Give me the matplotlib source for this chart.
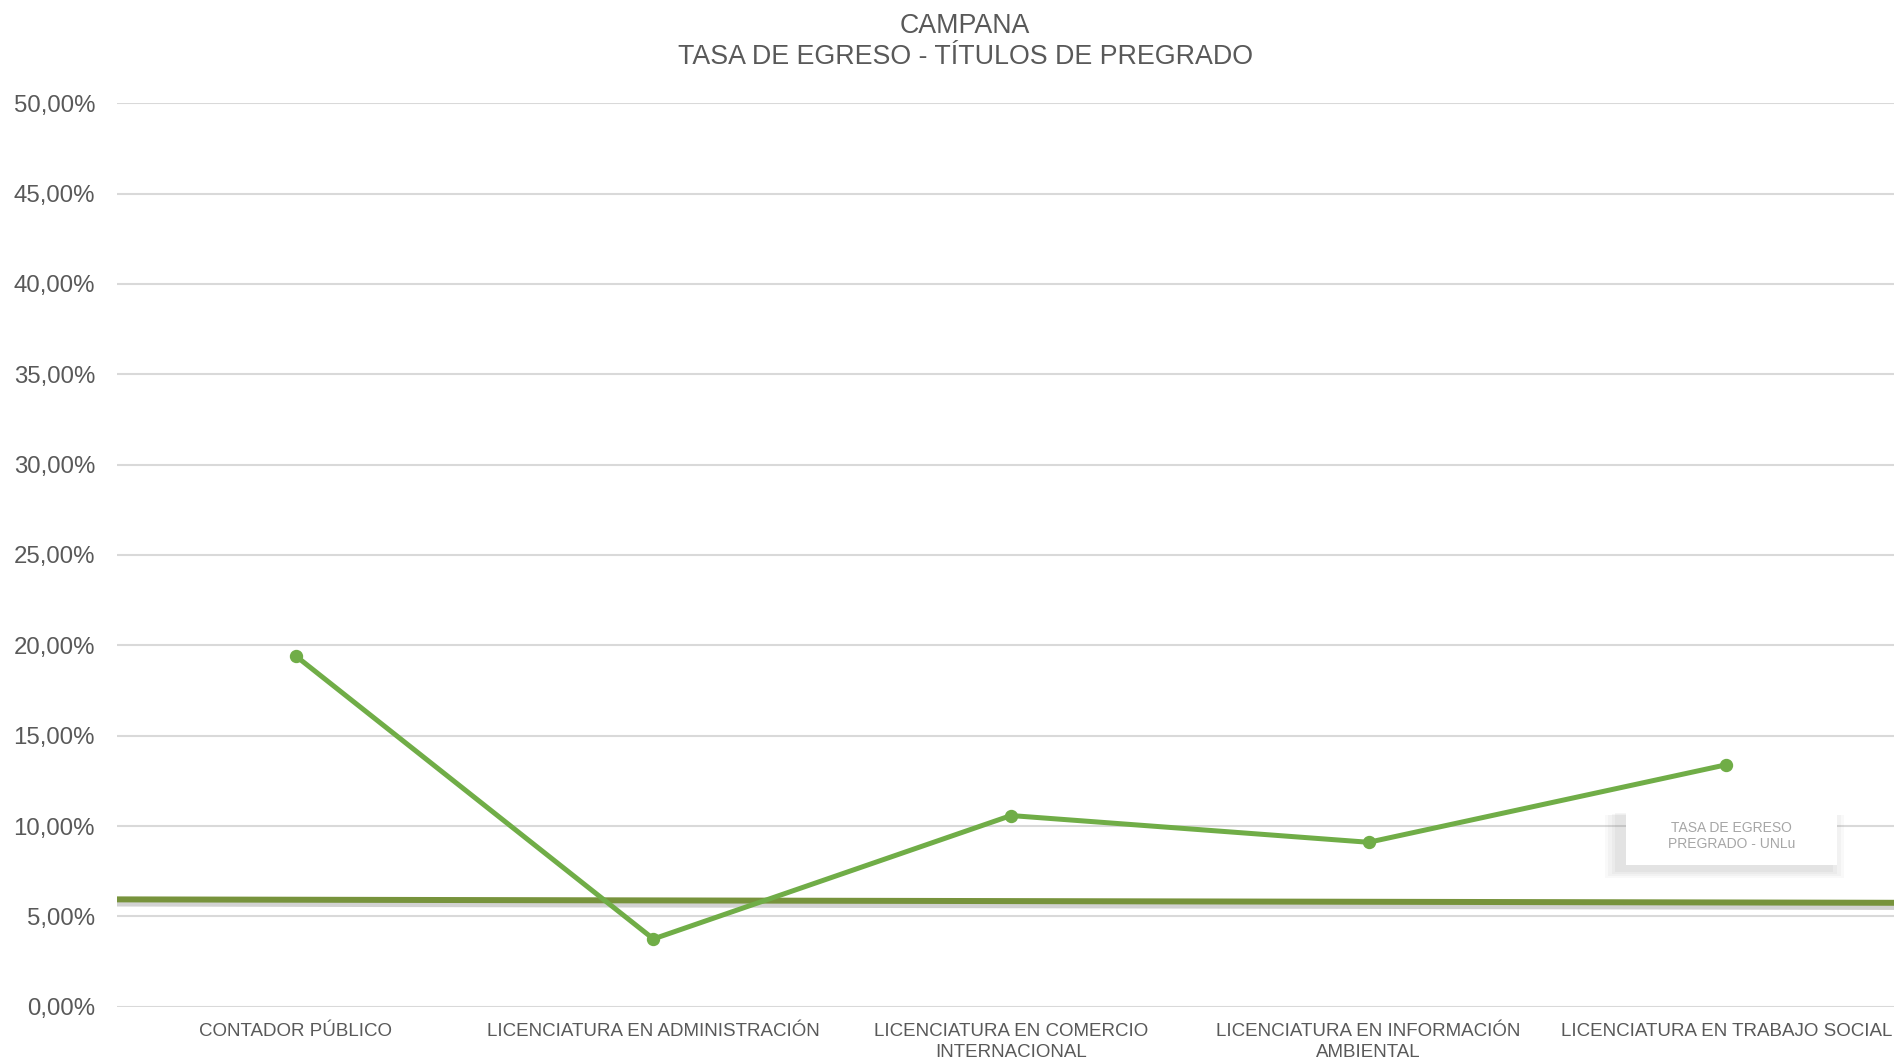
import matplotlib
matplotlib.use("Agg")
import matplotlib.pyplot as plt
import matplotlib.patheffects as pe
from matplotlib.patches import Rectangle
from matplotlib.ticker import FuncFormatter, MultipleLocator

plt.rcParams['font.family'] = ['Liberation Sans', 'DejaVu Sans']

categories = [
    "CONTADOR PÚBLICO",
    "LICENCIATURA EN ADMINISTRACIÓN",
    "LICENCIATURA EN COMERCIO\nINTERNACIONAL",
    "LICENCIATURA EN INFORMACIÓN\nAMBIENTAL",
    "LICENCIATURA EN TRABAJO SOCIAL",
]
tasa_campana = [0.1941, 0.0375, 0.1058, 0.0910, 0.1339]
# UNLu reference line, values at the left and right edges of the plot area
unlu_edges = [0.0594, 0.0575]
unlu_label = "TASA DE EGRESO\nPREGRADO - UNLu"
title = "CAMPANA\nTASA DE EGRESO - TÍTULOS DE PREGRADO"

W, H = 1894, 1061
fig = plt.figure(figsize=(W / 100, H / 100), dpi=100)
left, right = 117 / W, 1905 / W
bottom, top = (H - 1006.7) / H, (H - 103.3) / H
ax = fig.add_axes([left, bottom, right - left, top - bottom])

x = list(range(len(categories)))
ax.set_xlim(-0.5, len(categories) - 0.5)
ax.set_ylim(0, 0.5)

ax.yaxis.set_major_locator(MultipleLocator(0.05))
ax.yaxis.set_major_formatter(FuncFormatter(lambda v, p: f"{v*100:.2f}%".replace(".", ",")))
ax.grid(axis='y', color='#D9D9D9', linewidth=1.5)
ax.set_axisbelow(True)
for s in ax.spines.values():
    s.set_visible(False)
ax.tick_params(axis='both', length=0)
ax.tick_params(axis='y', labelsize=17.3, labelcolor='#595959', pad=15.8)
ax.set_xticks(x)
ax.set_xticklabels(categories, fontsize=13.5, color='#595959', linespacing=1.32)
ax.tick_params(axis='x', pad=11.5)

# UNLu line across the whole plot area
ax.plot([-0.5, len(categories) - 0.5], unlu_edges, color='#77933C', linewidth=4.3,
        solid_capstyle='butt', zorder=3,
        path_effects=[pe.SimpleLineShadow(offset=(0, -3), shadow_color='#7F7F7F', alpha=0.35, rho=1.0),
                      pe.Normal()])

ax.plot(x, tasa_campana, color='#70AD47', linewidth=3.6, marker='o', markersize=8.6,
        zorder=4, clip_on=False)

# label box with soft shadow (axes-fraction placement)
bx0, bx1, by0, by1 = 0.844, 0.962, 0.157, 0.221
for i, a in enumerate([0.04, 0.05, 0.06, 0.07]):
    d = 0.004 * (4 - i)
    ax.add_patch(Rectangle((bx0 - 0.004 - d * 0.5, by0 - 0.006 - d * 0.5), bx1 - bx0 + d, by1 - by0 + d * 0.3,
                           transform=ax.transAxes, facecolor='#7F7F7F', edgecolor='none',
                           alpha=a, zorder=5, clip_on=False))
ax.add_patch(Rectangle((bx0, by0), bx1 - bx0, by1 - by0, transform=ax.transAxes,
                       facecolor='white', edgecolor='none', zorder=6, clip_on=False))
ax.text((bx0 + bx1) / 2, (by0 + by1) / 2, unlu_label, transform=ax.transAxes,
        ha='center', va='center', fontsize=10, color='#A6A6A6', linespacing=1.2, zorder=7)

fig.text(965 / W, 1 - 41.5 / H, title, ha='center', va='center', fontsize=19.3,
         color='#595959', linespacing=1.21)

fig.savefig("out.png", dpi=100)
